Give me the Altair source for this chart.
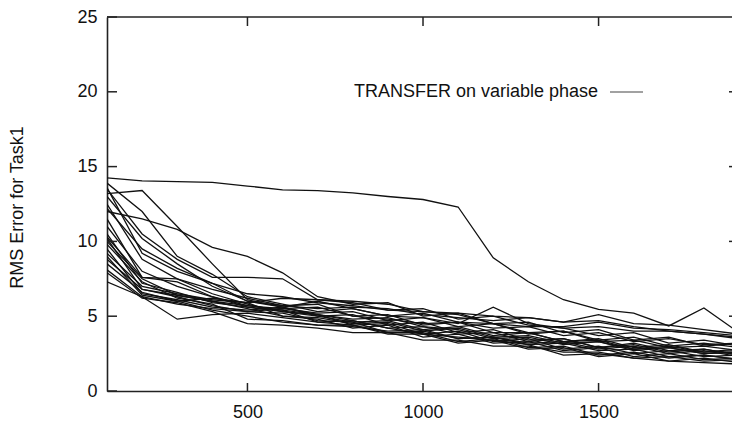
import altair as alt
import pandas as pd

# x positions of samples (training examples)
x_values = [100, 200, 300, 400, 500, 600, 700, 800, 900, 1000,
            1100, 1200, 1300, 1400, 1500, 1600, 1700, 1800, 1900]

# RMS error runs (one list per run)
run01 = [14.25, 14.05, 14.0, 13.95, 13.7, 13.45, 13.4, 13.25, 13.0, 12.8, 12.3, 8.9, 7.3, 6.1, 5.45, 5.2, 4.35, 5.55, 3.9]
run02 = [13.2, 13.4, 11.0, 8.5, 6.1, 5.6, 5.1, 4.8, 4.9, 4.3, 4.1, 3.5, 3.6, 3.1, 3.3, 2.8, 2.9, 2.5, 2.6]
run03 = [12.0, 11.5, 10.8, 9.6, 9.0, 7.9, 6.3, 5.8, 5.9, 5.0, 5.2, 4.5, 4.6, 3.9, 4.1, 3.4, 3.6, 3.0, 3.2]
run04 = [13.5, 10.5, 8.8, 7.6, 7.6, 7.5, 6.1, 5.9, 5.4, 5.5, 4.8, 5.0, 4.4, 4.2, 3.7, 3.9, 3.2, 3.4, 3.0]
run05 = [13.9, 12.0, 9.0, 7.8, 6.3, 5.8, 5.3, 5.5, 5.0, 5.2, 4.6, 4.5, 3.9, 4.0, 3.3, 3.4, 2.9, 3.0, 2.7]
run06 = [13.6, 9.2, 8.0, 7.2, 6.0, 5.6, 5.0, 5.1, 4.4, 4.6, 3.9, 4.1, 3.4, 3.5, 2.9, 3.2, 2.7, 2.8, 2.4]
run07 = [12.5, 8.8, 7.5, 6.5, 5.8, 5.3, 5.1, 4.4, 4.5, 3.8, 4.0, 3.3, 3.5, 2.8, 3.0, 2.5, 2.7, 2.3, 2.4]
run08 = [11.5, 7.6, 7.3, 6.3, 5.6, 5.4, 4.6, 4.4, 3.9, 3.9, 3.3, 3.5, 2.9, 3.0, 2.4, 2.6, 2.2, 2.4, 2.1]
run09 = [10.3, 7.6, 7.5, 6.8, 6.2, 5.7, 5.8, 5.0, 5.1, 4.4, 4.6, 3.9, 3.9, 3.3, 3.4, 2.8, 3.0, 2.6, 2.7]
run10 = [10.0, 7.5, 6.4, 6.0, 5.5, 5.0, 4.8, 4.2, 4.4, 3.6, 3.8, 3.2, 3.3, 2.7, 2.9, 2.3, 2.5, 2.1, 2.2]
run11 = [9.8, 7.3, 6.2, 5.8, 4.8, 4.7, 4.4, 4.4, 3.8, 3.8, 3.2, 3.4, 2.8, 2.9, 2.3, 2.5, 2.0, 2.2, 1.9]
run12 = [9.5, 6.5, 6.1, 5.6, 5.4, 5.6, 6.0, 5.5, 5.0, 4.9, 4.5, 5.6, 4.5, 4.2, 4.3, 4.0, 4.0, 3.8, 3.6]
run13 = [9.0, 6.4, 6.0, 5.4, 5.0, 4.6, 4.4, 4.3, 4.0, 4.1, 3.5, 3.6, 3.1, 3.2, 2.7, 2.8, 2.3, 2.4, 2.1]
run14 = [8.5, 6.6, 6.0, 6.2, 5.9, 6.2, 6.1, 6.0, 5.8, 5.3, 5.2, 5.0, 4.9, 4.6, 4.7, 4.3, 4.0, 3.8, 3.5]
run15 = [8.1, 6.3, 4.8, 5.1, 5.2, 4.9, 4.6, 4.7, 4.2, 4.3, 3.8, 3.9, 3.3, 3.5, 2.9, 3.1, 2.6, 2.8, 2.4]
run16 = [7.9, 6.2, 5.9, 5.3, 4.5, 4.4, 4.2, 3.9, 3.9, 3.4, 3.4, 3.0, 3.0, 2.6, 2.6, 2.2, 2.3, 2.0, 2.1]
run17 = [7.3, 6.3, 5.8, 5.5, 5.3, 5.2, 4.7, 4.6, 3.9, 4.0, 3.5, 3.6, 3.2, 3.3, 2.8, 3.0, 2.5, 2.7, 2.3]
run18 = [13.0, 10.2, 8.5, 7.0, 6.0, 5.7, 5.5, 5.6, 5.5, 5.1, 4.9, 4.7, 4.9, 4.6, 5.1, 4.5, 4.4, 4.1, 3.8]
run19 = [11.0, 8.0, 7.0, 6.3, 5.7, 5.5, 5.6, 5.0, 4.8, 4.5, 4.6, 4.2, 4.3, 3.7, 3.9, 3.3, 3.5, 3.1, 3.2]
run20 = [12.2, 9.5, 8.2, 7.2, 6.5, 6.3, 5.9, 5.7, 5.4, 5.3, 5.1, 4.5, 4.3, 4.3, 4.6, 4.2, 4.1, 3.9, 3.7]
run21 = [10.5, 7.2, 6.6, 5.9, 5.6, 5.3, 5.0, 4.6, 4.7, 4.1, 4.3, 3.7, 3.9, 3.3, 3.5, 2.9, 3.1, 2.6, 2.8]
run22 = [8.8, 6.8, 6.4, 6.0, 5.7, 5.4, 5.1, 4.7, 4.2, 3.8, 3.6, 3.4, 3.1, 2.4, 2.5, 2.2, 2.0, 1.9, 1.8]
run23 = [10.2, 6.8, 6.3, 5.7, 5.3, 5.5, 5.2, 5.3, 4.7, 4.9, 4.3, 4.5, 3.8, 4.0, 3.4, 3.6, 3.0, 3.2, 2.9]
run24 = [9.2, 7.0, 6.5, 6.1, 5.9, 5.0, 4.9, 4.5, 4.6, 4.0, 4.2, 3.6, 3.7, 3.2, 3.3, 2.7, 2.9, 2.5, 2.6]

runs = [run01, run02, run03, run04, run05, run06, run07, run08, run09, run10, run11, run12,
        run13, run14, run15, run16, run17, run18, run19, run20, run21, run22, run23, run24]

y_ticks = [0, 5, 10, 15, 20, 25]
x_ticks = [500, 1000, 1500]
right_ticks = [5, 10, 15, 20]
legend_label = "TRANSFER on variable phase"
y_title = "RMS Error for Task1"

X_DOMAIN = [100, 1880]
Y_DOMAIN = [0, 25]
W, H = 625, 374
FONT = "Liberation Sans"

rows = []
for i, r in enumerate(runs):
    for xv, yv in zip(x_values, r):
        rows.append({"run": i, "x": xv, "rms": yv})
df = pd.DataFrame(rows)

xs = alt.Scale(domain=X_DOMAIN, nice=False, zero=False)
ys = alt.Scale(domain=Y_DOMAIN, nice=False)

lines = alt.Chart(df).mark_line(clip=True, strokeWidth=1.3, color="#111").encode(
    x=alt.X("x:Q", scale=xs, axis=alt.Axis(
        title=None, values=x_ticks, format="d", ticks=False, tickSize=0, grid=False,
        labelFont=FONT, labelFontSize=18, labelColor="#111", labelPadding=12,
        domainColor="#222", domainWidth=1.6)),
    y=alt.Y("rms:Q", scale=ys, axis=alt.Axis(
        title=y_title, values=y_ticks, format="d", ticks=False, tickSize=0, grid=False,
        labelFont=FONT, labelFontSize=18, labelColor="#111", labelPadding=10,
        domainColor="#222", domainWidth=1.6,
        titleFont=FONT, titleFontSize=18, titleFontWeight="normal", titleColor="#111",
        titleX=-85, titleY=190, titleAngle=270, titleBaseline="alphabetic", titleAlign="center")),
    detail="run:N",
    order="x:Q",
)

ytick_df = pd.DataFrame({"v": y_ticks})
xtick_df = pd.DataFrame({"v": x_ticks})
rtick_df = pd.DataFrame({"v": right_ticks})

left_ticks = alt.Chart(ytick_df).mark_rule(color="#222", strokeWidth=1.5).encode(
    y=alt.Y("v:Q", scale=ys), x=alt.value(0), x2=alt.value(10))
bottom_ticks = alt.Chart(xtick_df).mark_rule(color="#222", strokeWidth=1.5).encode(
    x=alt.X("v:Q", scale=xs), y=alt.value(H), y2=alt.value(H - 8))
top_ticks = alt.Chart(xtick_df).mark_rule(color="#222", strokeWidth=1.5).encode(
    x=alt.X("v:Q", scale=xs), y=alt.value(0), y2=alt.value(9))
right_tick_tips = alt.Chart(rtick_df).mark_rule(color="#222", strokeWidth=1.5).encode(
    y=alt.Y("v:Q", scale=ys), x=alt.value(W - 3), x2=alt.value(W))
top_border = alt.Chart(pd.DataFrame({"v": [0]})).mark_rule(color="#222", strokeWidth=1.6).encode(
    y=alt.value(0), x=alt.value(0), x2=alt.value(W))

legend_text = alt.Chart(pd.DataFrame({"t": [legend_label]})).mark_text(
    font=FONT, fontSize=18, color="#111", align="right", baseline="middle").encode(
    text="t:N", x=alt.value(491), y=alt.value(75))
legend_line = alt.Chart(pd.DataFrame({"t": [legend_label]})).mark_rule(
    color="#444", strokeWidth=1.1).encode(
    x=alt.value(503), x2=alt.value(536), y=alt.value(75))

chart = alt.layer(
    lines, left_ticks, bottom_ticks, top_ticks, right_tick_tips, top_border,
    legend_text, legend_line
).properties(
    width=W, height=H,
    autosize=alt.AutoSizeParams(type="none"),
    padding={"left": 107, "top": 17, "right": 0, "bottom": 33},
    background="white",
).configure_view(stroke=None)

chart.save("out.html", embed_options={"renderer": "svg", "actions": False})
